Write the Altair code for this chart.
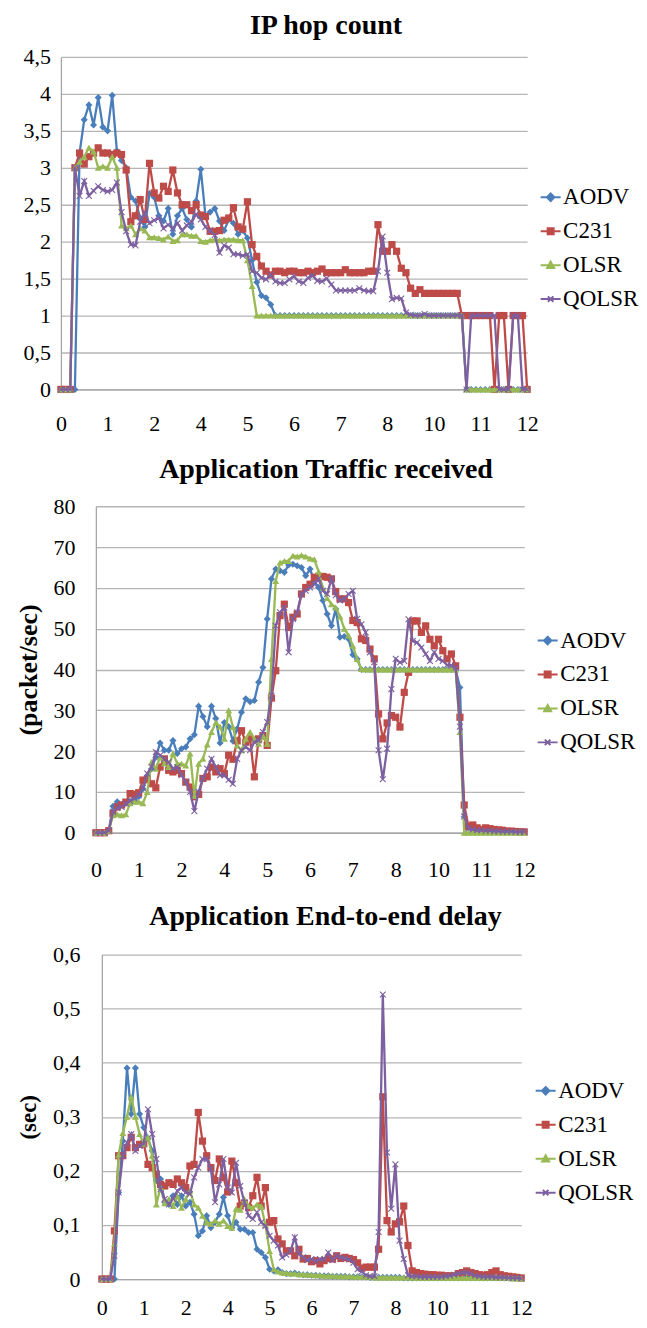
import altair as alt
import pandas as pd

SERIES = ["AODV", "C231", "OLSR", "QOLSR"]
COLORS = ["#4A7EBB", "#BE4B48", "#98B954", "#7D60A0"]
TICK_LABELS = ["0", "1", "2", "4", "5", "6", "7", "8", "10", "11", "12"]
N = 101
FONT = "Liberation Serif"

# ---------------- IP hop count ----------------
HOP_AODV = [0, 0, 0, 0,
    3.2, 3.65, 3.85, 3.58, 3.95, 3.55, 3.5, 3.98, 3.23, 3.1, 3.0,
    2.6, 2.55, 2.32, 2.2, 2.65, 2.6, 2.35, 2.28, 2.45, 2.1, 2.35, 2.45, 2.3, 2.2, 2.55,
    2.98, 2.35, 2.4, 2.45, 2.28, 2.15, 2.3, 2.25, 2.1, 2.15, 2.05, 1.75, 1.45, 1.27, 1.24, 1.15,
    1, 1, 1, 1, 1, 1, 1, 1, 1, 1,
    1, 1, 1, 1, 1, 1, 1, 1, 1, 1,
    1, 1, 1, 1, 1, 1, 1, 1, 1, 1,
    1, 1, 1, 1, 1, 1, 1, 1, 1, 1,
    1,
    0, 0, 0, 0, 0, 0, 0, 0, 0, 0, 0, 0, 0, 0]
HOP_C231 = [0, 0, 0,
    3.0, 3.2, 3.05, 3.15, 3.2, 3.27, 3.2, 3.2, 3.18, 3.2, 3.18,
    2.97, 2.27, 2.35, 2.57, 2.3, 3.06, 2.66, 2.59, 2.75, 2.68, 2.97, 2.66, 2.5, 2.5, 2.42, 2.5,
    2.36, 2.34, 2.14, 2.14, 2.15, 2.29, 2.32, 2.46, 2.2, 2.17, 2.54, 1.96,
    1.8, 1.67, 1.6, 1.55, 1.6, 1.6, 1.58, 1.6, 1.6, 1.58, 1.58, 1.6, 1.58, 1.6, 1.63, 1.58,
    1.58, 1.58, 1.58, 1.62, 1.58, 1.58, 1.58, 1.58, 1.6, 1.6,
    2.23, 1.87, 1.87, 1.96, 1.87, 1.64, 1.58, 1.37, 1.3, 1.35, 1.3, 1.3, 1.3, 1.3, 1.3, 1.3, 1.3, 1.3,
    1, 1, 1, 1, 1, 1, 1, 0, 1, 1, 0, 1, 1, 1, 0]
HOP_OLSR = [0, 0, 0,
    3.0, 3.08, 3.15, 3.27, 3.22, 3.0, 3.02, 3.0, 3.15, 3.0,
    2.22, 2.18, 2.22, 2.1, 2.18, 2.15, 2.06, 2.06, 2.05, 2.03, 2.07, 2.01, 2.02, 2.1, 2.1,
    2.08, 2.08, 2.01, 2.0, 2.02, 2.03, 2.02, 2.03, 2.03, 2.03, 2.02, 2.02,
    1.75, 1.4,
    1, 1, 1, 1, 1, 1, 1, 1, 1, 1,
    1, 1, 1, 1, 1, 1, 1, 1, 1, 1,
    1, 1, 1, 1, 1, 1, 1, 1, 1, 1,
    1, 1, 1, 1, 1, 1, 1, 1, 1, 1,
    1, 1, 1, 1, 1,
    0, 0, 0, 0, 0, 0, 0, 0, 0, 0, 0, 0, 0, 0]
HOP_QOLSR = [0, 0, 0,
    3.0, 2.62, 2.82, 2.62, 2.69, 2.75, 2.7, 2.68, 2.7, 2.8,
    2.4, 2.14, 1.96, 1.95, 2.27, 2.39, 2.25, 2.29, 2.32, 2.18, 2.23, 2.18, 2.25, 2.15, 2.22,
    2.27, 2.37, 2.3, 2.2, 2.15, 2.09, 1.85, 1.95, 1.92, 1.83, 1.83, 1.81, 1.83,
    1.6, 1.58, 1.51, 1.49, 1.55, 1.46, 1.44, 1.44, 1.49, 1.53, 1.46, 1.44, 1.51, 1.54, 1.47,
    1.46, 1.5, 1.42, 1.34, 1.34, 1.34, 1.34, 1.34, 1.37, 1.34, 1.33,
    1.33, 1.6, 2.07, 1.58, 1.22, 1.24, 1.23, 1.04, 1.01,
    1, 1, 1.02, 1, 1, 1, 1, 1, 1, 1, 1,
    0, 1, 1, 1, 1, 1, 1, 0, 0, 0, 1, 1, 0, 0]

# ---------------- Application Traffic received ----------------
TRAF_AODV = [0, 0, 0, 0.5,
    6.5, 7.6, 6.9, 7.2, 7.7, 8.2, 8.8, 10.8, 14, 15.7, 18.5, 22, 20.2, 20.2, 22.6, 19.4, 20.6, 21, 23,
    24, 31, 28.5, 26, 31, 28, 22, 27, 26, 22.5, 25.5, 29.5, 32.8, 32.1, 32.4, 36.9, 40.5,
    52.4, 62.2, 64.6, 64.2, 63.8, 65.6, 65.8, 65.4, 65, 63, 64.6, 61.7, 60.1, 56.9, 53.6, 50.7,
    54.8, 47.9, 48.1, 47.5, 43.6, 42.6, 40,
    40, 40, 40, 40, 40, 40, 40, 40, 40, 40, 40, 40, 40, 40, 40, 40, 40, 40, 40, 40, 40, 40,
    35.6, 3.9, 1.2, 0.9, 0.8, 0.7, 0.6, 0.6, 0.5, 0.5, 0.4, 0.4, 0.3, 0.3, 0.3, 0.3]
TRAF_C231 = [0, 0, 0, 0.5,
    4.7, 6.3, 6.8, 7.5, 9.6, 9.4, 9.8, 12.9, 13.1, 12, 11, 16.1, 18.1, 15.3, 14.9, 15.3, 14.5,
    12.4, 11.2, 8.8, 9.4, 13.3, 13.7, 16.1, 14.9, 15.7, 14.5, 19, 18, 22.5, 25, 22.2, 23, 13.7,
    23, 23.8, 21.4,
    33, 39.7, 53.2, 56, 50.3, 52.8, 53.6, 58.5, 60.1, 60.9, 62.6, 62.8, 62.8, 62.6, 62.2, 59.1,
    57.3, 57.3, 56.4, 52, 51.5, 47.5, 47.1, 45, 42.6, 29.1,
    23, 26.9, 28.7, 28.3, 25.9, 34.4, 39.3, 51.9, 51.9, 49.1, 50.7, 47.4, 45.8, 47.4, 44.6, 42.6,
    43.8, 40.9, 28.3, 6.8,
    1.5, 1.9, 1.2, 0.8, 1.2, 1.0, 0.8, 0.7, 0.6, 0.4, 0.4, 0.3, 0.2, 0.2]
TRAF_OLSR = [0, 0, 0, 0.5,
    4.3, 4.5, 4.3, 4.5, 7.2, 7.6, 7.6, 7.2, 10, 17.3, 15.7, 18.5, 17, 16.1, 19.4, 17, 16.9,
    16.5, 19.4, 9, 16.9, 18.1, 21.6, 24.7, 27, 26, 23, 30, 25.9, 21.4, 20.2, 23, 24.7, 23,
    21.8, 23.8, 21.8,
    42.6, 61.7, 66.2, 66.6, 66.6, 67.9, 67.7, 68, 67.7, 67.2, 67, 64, 60, 57.5, 56, 55.2, 53,
    50, 48.3, 45.8, 42.6, 40.1,
    40, 40, 40, 40, 40, 40, 40, 40, 40, 40, 40, 40, 40, 40, 40, 40, 40, 40, 40, 40, 40, 40,
    24.7, 0, 0, 0, 0, 0, 0, 0, 0, 0, 0, 0, 0, 0, 0, 0]
TRAF_QOLSR = [0, 0, 0, 0.5,
    5.1, 6.1, 6.3, 7.2, 7.8, 8.4, 9.2, 11, 14.5, 16.1, 19.8, 19, 18.1, 17.3, 15.7, 16.1, 14.1,
    12.4, 10, 5.3, 10, 13.3, 15.7, 18.1, 16.1, 14.1, 14.1, 13, 12, 18.1, 20.2, 21, 20.2, 22.2,
    22.6, 24.7, 27.1, 33.6,
    50.7, 54, 55.2, 44.2, 52.4, 54, 58.5, 59.3, 60.1, 60.9, 62.2, 59.3, 58.5, 62.2, 58.2, 56.9,
    57.3, 58.5, 59.3, 52.4, 51.1, 49.1, 44.2, 41.8,
    20.2, 13.1, 20.6, 35.2, 42.6, 41.7, 42.1, 52.3, 47, 46.6, 45.4, 43.8, 42.1, 44.2, 42.6, 42.1,
    41.1, 41, 40.5, 26, 4,
    1.0, 0.8, 0.6, 0.6, 0.5, 0.5, 0.4, 0.4, 0.3, 0.3, 0.3, 0.2, 0.2, 0.2]

# ---------------- Application End-to-end delay ----------------
DEL_AODV = [0, 0, 0, 0,
    0.16, 0.255, 0.39, 0.305, 0.39, 0.305, 0.28, 0.26, 0.237, 0.182, 0.185, 0.142, 0.138, 0.154,
    0.138, 0.154, 0.135, 0.142,
    0.12, 0.08, 0.089, 0.117, 0.095, 0.105, 0.12, 0.151, 0.117, 0.095, 0.105, 0.092, 0.092,
    0.086, 0.086, 0.055, 0.049, 0.04, 0.018, 0.015, 0.017, 0.012, 0.01,
    0.01, 0.011, 0.009, 0.008, 0.008, 0.007, 0.007, 0.006, 0.006, 0.006,
    0.005, 0.005, 0.005, 0.005, 0.004, 0.004, 0.004, 0.004, 0.004, 0.003,
    0.003, 0.003, 0.003, 0.003, 0.003, 0.003, 0.003, 0.002, 0.002, 0.002,
    0.002, 0.002, 0.002, 0.002, 0.002, 0.002, 0.002, 0.002, 0.002, 0.002,
    0.002, 0.002, 0.002, 0.002, 0.002, 0.002, 0.002, 0.002, 0.002, 0.002,
    0.002, 0.002, 0.002, 0.002, 0.002, 0.001]
DEL_C231 = [0, 0, 0,
    0.089, 0.228, 0.228, 0.243, 0.262, 0.243, 0.249, 0.25, 0.212, 0.206, 0.194, 0.175, 0.172,
    0.178, 0.175, 0.185, 0.178, 0.169, 0.209, 0.212, 0.308, 0.255, 0.228, 0.206, 0.182, 0.222,
    0.188, 0.161, 0.218, 0.178, 0.135, 0.14, 0.132, 0.154, 0.188, 0.135, 0.169, 0.105, 0.108,
    0.074, 0.065, 0.052, 0.052, 0.043,
    0.055, 0.037, 0.038, 0.032, 0.034, 0.028, 0.034, 0.038, 0.037, 0.043, 0.038, 0.04, 0.038,
    0.036, 0.03, 0.02, 0.022, 0.022, 0.022, 0.055,
    0.337, 0.108, 0.087, 0.102, 0.106, 0.135, 0.062, 0.015,
    0.012, 0.01, 0.009, 0.008, 0.008, 0.007, 0.007, 0.006, 0.006, 0.006, 0.01, 0.012, 0.015,
    0.012, 0.01, 0.008, 0.007, 0.008, 0.012, 0.015, 0.008, 0.006, 0.005, 0.004, 0.003, 0.002]
DEL_OLSR = [0, 0, 0,
    0.065, 0.23, 0.27, 0.3, 0.337, 0.3, 0.268, 0.25, 0.262, 0.228, 0.138, 0.17, 0.14, 0.148,
    0.135, 0.154, 0.132, 0.148, 0.163, 0.138, 0.132, 0.117, 0.105, 0.102, 0.108, 0.102, 0.108,
    0.098, 0.095, 0.13, 0.128, 0.148, 0.135, 0.132, 0.138, 0.135, 0.1, 0.052, 0.018, 0.014,
    0.012,
    0.011, 0.01, 0.01, 0.009, 0.009, 0.008, 0.008, 0.007, 0.007, 0.006,
    0.006, 0.006, 0.005, 0.005, 0.005, 0.005, 0.004, 0.004, 0.004, 0.004,
    0.004, 0.003, 0.003, 0.003, 0.003, 0.003, 0.003, 0.003, 0.003, 0.003,
    0.003, 0.002, 0.002, 0.002, 0.002, 0.002, 0.002, 0.002, 0.002, 0.002,
    0.002, 0.002, 0.002, 0.002, 0.002, 0.002, 0.002, 0.002, 0.002, 0.002,
    0.002, 0.002, 0.002, 0.002, 0.001, 0.001, 0.001]
DEL_QOLSR = [0, 0, 0,
    0.043, 0.16, 0.228, 0.252, 0.268, 0.237, 0.246, 0.25, 0.314, 0.268, 0.222, 0.166, 0.148,
    0.138, 0.148, 0.163, 0.169, 0.16, 0.157, 0.188, 0.206, 0.222, 0.222, 0.203, 0.142, 0.175,
    0.222, 0.169, 0.16, 0.215, 0.172, 0.142, 0.117, 0.111, 0.123, 0.105, 0.098, 0.08, 0.071,
    0.062, 0.04, 0.045, 0.052, 0.077, 0.046, 0.04,
    0.035, 0.037, 0.033, 0.037, 0.036, 0.049, 0.035, 0.043, 0.04, 0.038, 0.036, 0.03, 0.018,
    0.014, 0.007, 0.005, 0.005, 0.087,
    0.526, 0.234, 0.13, 0.212, 0.071, 0.037, 0.007,
    0.005, 0.005, 0.004, 0.004, 0.004, 0.004, 0.004, 0.004, 0.005, 0.006, 0.008, 0.01, 0.012,
    0.012, 0.01, 0.006, 0.005, 0.004, 0.004, 0.004, 0.003, 0.003, 0.003, 0.002, 0.002, 0.002,
    0.001]

for _lst in [HOP_AODV, HOP_C231, HOP_OLSR, HOP_QOLSR, TRAF_AODV, TRAF_C231, TRAF_OLSR,
             TRAF_QOLSR, DEL_AODV, DEL_C231, DEL_OLSR, DEL_QOLSR]:
    assert len(_lst) == N, len(_lst)

# ---------------- styling ----------------
MARKERS = [
    dict(shape="diamond", size=50, filled=True),
    dict(shape="square", size=52, filled=True),
    dict(shape="triangle-up", size=48, filled=True),
    dict(shape="M-1,-1L1,1M-1,1L1,-1", size=34, filled=False, strokeWidth=1.1),
]
LEGEND_PATHS = [
    "M-2,0H2M0,-0.75L0.75,0L0,0.75L-0.75,0Z",
    "M-2,0H2M-0.6,-0.6H0.6V0.6H-0.6Z",
    "M-2,0H2M0,-0.7L0.7,0.55H-0.7Z",
    "M-2,0H2M-0.55,-0.55L0.55,0.55M-0.55,0.55L0.55,-0.55",
]
LABEL_EXPR = "[" + ",".join("'%s'" % t for t in TICK_LABELS) + "][round(datum.value/10)]"
INDEP = dict(x="independent", y="independent", color="independent", stroke="independent",
             shape="independent")


def long_df(lists):
    rows = []
    for name, vals in zip(SERIES, lists):
        for i, v in enumerate(vals):
            rows.append({"i": i, "series": name, "v": v})
    return pd.DataFrame(rows)


def panel(lists, title, dx, width, height, ymax, yvals, ytitle, ytitlesize, ylabpad,
          ytitlepad, xlabpad, legxy, toff):
    df = long_df(lists)
    base = alt.Chart(df)
    x_enc = alt.X("i:Q", scale=alt.Scale(domain=[0, N - 1], nice=False, zero=False),
                  axis=alt.Axis(values=list(range(0, N, 10)), labelExpr=LABEL_EXPR, title=None,
                                grid=False, ticks=False, labelPadding=xlabpad, labelFont=FONT,
                                labelFontSize=22, labelColor="black", labelAngle=0,
                                labelFlush=False, labelOverlap=False,
                                domainColor="#A6A6A6", domainWidth=1.3))
    yaxis = dict(values=yvals,
                 labelExpr="replace(format(datum.value, '.1~f'), '.', ',')",
                 grid=True, gridColor="#B5B5B5", gridWidth=1.3, ticks=False,
                 labelPadding=ylabpad, labelFont=FONT, labelFontSize=22, labelColor="black",
                 domainColor="#A6A6A6", domainWidth=1.3, labelOverlap=False)
    if ytitle:
        yaxis.update(title=ytitle, titleFont=FONT, titleFontSize=ytitlesize,
                     titleFontWeight="bold", titleColor="black", titlePadding=ytitlepad)
    else:
        yaxis.update(title=None)
    y_enc = alt.Y("v:Q", scale=alt.Scale(domain=[0, ymax], nice=False),
                  axis=alt.Axis(**yaxis))

    layers = []
    for k, name in enumerate(SERIES):
        sub = base.transform_filter(alt.datum.series == name)
        layers.append(sub.mark_line(color=COLORS[k], strokeWidth=2.3).encode(x=x_enc, y=y_enc))
        layers.append(sub.mark_point(color=COLORS[k], opacity=1, **MARKERS[k])
                      .encode(x=x_enc, y=y_enc))

    leg = alt.Legend(orient="none", legendX=legxy[0], legendY=legxy[1], title=None,
                     labelFont=FONT, labelFontSize=23, labelColor="black", symbolSize=100,
                     symbolStrokeWidth=2, rowPadding=10, labelOffset=1, padding=0,
                     symbolOpacity=1)
    legend_layer = base.transform_filter("false").mark_point(
        filled=True, opacity=1, strokeWidth=2).encode(
        color=alt.Color("series:N", scale=alt.Scale(domain=SERIES, range=COLORS), legend=leg),
        stroke=alt.Stroke("series:N", scale=alt.Scale(domain=SERIES, range=COLORS), legend=leg),
        shape=alt.Shape("series:N", scale=alt.Scale(domain=SERIES, range=LEGEND_PATHS),
                        legend=leg),
    )
    return alt.layer(*layers, legend_layer).properties(
        width=width, height=height,
        title=alt.TitleParams(text=title, font=FONT, fontSize=28, fontWeight="bold",
                              color="black", anchor="middle", frame="group", dx=dx,
                              offset=toff))


def shifted(chart, shift):
    # invisible spacer so that this panel's plot area starts further right than panel 1's
    spacer = alt.Chart(pd.DataFrame({"s": [0]})).mark_point(opacity=0).encode(
        x=alt.value(0), y=alt.value(0)).properties(width=shift, height=10)
    return alt.hconcat(spacer, chart, spacing=0, bounds="flush").resolve_scale(**INDEP)


p1 = panel([HOP_AODV, HOP_C231, HOP_OLSR, HOP_QOLSR], "IP hop count", 32, 467, 333,
           4.5, [0, 0.5, 1, 1.5, 2, 2.5, 3, 3.5, 4, 4.5], None, 23, 10.5, 0, 24,
           (479, 129), 5.5)
p2 = panel([TRAF_AODV, TRAF_C231, TRAF_OLSR, TRAF_QOLSR], "Application Traffic received", 16,
           429, 327, 80, [0, 10, 20, 30, 40, 50, 60, 70, 80], "(packet/sec)", 26, 21, 11, 27,
           (441, 123), 11)
p3 = panel([DEL_AODV, DEL_C231, DEL_OLSR, DEL_QOLSR], "Application End-to-end delay", 14,
           420, 325, 0.6, [0, 0.1, 0.2, 0.3, 0.4, 0.5, 0.6], "(sec)", 23, 22, 11.5, 19,
           (433, 125), 12.5)

chart = alt.vconcat(p1, shifted(p2, 35), shifted(p3, 41), spacing=22).resolve_scale(
    **INDEP
).properties(
    padding={"left": 8, "top": 3, "right": 0, "bottom": 0}
).configure(background="white").configure_view(strokeOpacity=0)

chart.save("out.html", embed_options={"renderer": "svg", "actions": False})
